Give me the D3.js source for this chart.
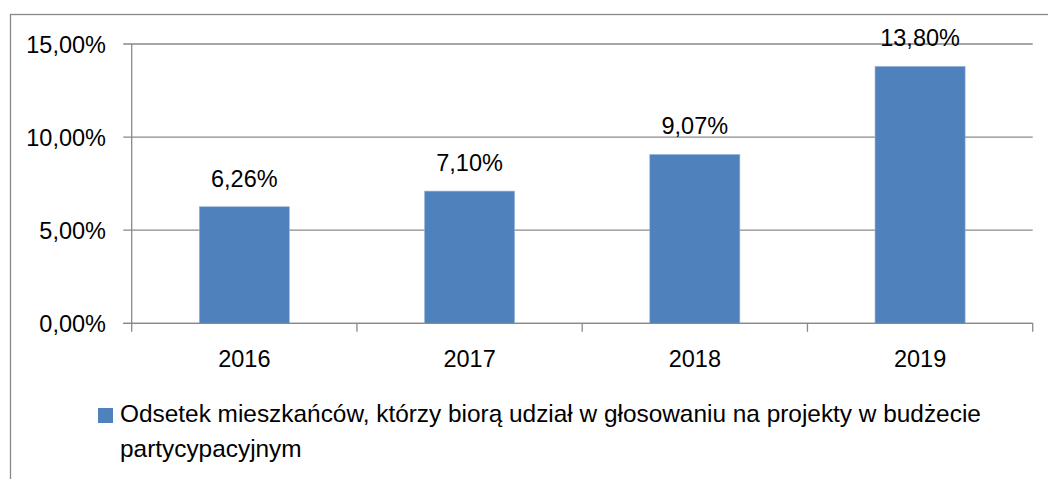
<!DOCTYPE html>
<html>
<head>
<meta charset="utf-8">
<script src="https://cdn.jsdelivr.net/npm/d3@7"></script>
<style>
  body { margin: 0; background: #fff; }
  text { font-family: "Liberation Sans", Arial, sans-serif; fill: #000; }
</style>
</head>
<body>
<div id="chart"></div>
<script>
var years = ["2016", "2017", "2018", "2019"];
var values = [6.26, 7.10, 9.07, 13.80];
var yTicks = [0, 5, 10, 15];
var legendLines = ["Odsetek mieszkańców, którzy biorą udział w głosowaniu na projekty w budżecie",
  "partycypacyjnym"];

var width = 1048, height = 479;
var plotLeft = 131.7, plotRight = 1032.7, plotTop = 44, plotBottom = 323.3;
var gray = "#898989", barColor = "#4f81bd";

var svg = d3.select("#chart").append("svg")
  .attr("width", width)
  .attr("height", height);

// outer frame of the chart area
svg.append("rect")
  .attr("x", 10.5).attr("y", 14.5)
  .attr("width", 1100).attr("height", 600)
  .attr("fill", "none")
  .attr("stroke", gray)
  .attr("stroke-width", 1.3);

var x = d3.scaleBand()
  .domain(years)
  .range([plotLeft, plotRight])
  .paddingInner(0.6)
  .paddingOuter(0.3);

var y = d3.scaleLinear()
  .domain([0, 15])
  .range([plotBottom, plotTop]);

var fmt = function(v){ return v.toFixed(2).replace(".", ",") + "%"; };

// gridlines + y ticks
svg.selectAll(".grid")
  .data(yTicks)
  .enter().append("line")
  .attr("x1", plotLeft - 8.5).attr("x2", plotRight)
  .attr("y1", function(d){ return y(d); })
  .attr("y2", function(d){ return y(d); })
  .attr("stroke", gray)
  .attr("stroke-width", 1.3);

svg.selectAll(".ylab")
  .data(yTicks)
  .enter().append("text")
  .attr("x", 106)
  .attr("y", function(d){ return y(d) + 8.5; })
  .attr("text-anchor", "end")
  .style("font-size", "23.5px")
  .text(fmt);

// y axis line
svg.append("line")
  .attr("x1", plotLeft).attr("x2", plotLeft)
  .attr("y1", plotTop).attr("y2", plotBottom + 8.5)
  .attr("stroke", gray)
  .attr("stroke-width", 1.3);

// category boundary ticks
var step = x.step();
svg.selectAll(".xtick")
  .data(d3.range(1, years.length + 1))
  .enter().append("line")
  .attr("x1", function(i){ return plotLeft + i * step; })
  .attr("x2", function(i){ return plotLeft + i * step; })
  .attr("y1", plotBottom).attr("y2", plotBottom + 8.5)
  .attr("stroke", gray)
  .attr("stroke-width", 1.3);

// bars
svg.selectAll(".bar")
  .data(values)
  .enter().append("rect")
  .attr("x", function(d, i){ return x(years[i]); })
  .attr("y", function(d){ return y(d); })
  .attr("width", x.bandwidth())
  .attr("height", function(d){ return plotBottom - y(d); })
  .attr("fill", barColor)
  .attr("stroke", "#9db8dc")
  .attr("stroke-width", 0.6);

// redraw x axis over bars
svg.append("line")
  .attr("x1", plotLeft - 8.5).attr("x2", plotRight)
  .attr("y1", plotBottom).attr("y2", plotBottom)
  .attr("stroke", gray)
  .attr("stroke-width", 1.3);

// value labels
svg.selectAll(".vlab")
  .data(values)
  .enter().append("text")
  .attr("x", function(d, i){ return x(years[i]) + x.bandwidth() / 2; })
  .attr("y", function(d){ return y(d) - 20; })
  .attr("text-anchor", "middle")
  .style("font-size", "23.5px")
  .text(fmt);

// category labels
svg.selectAll(".xlab")
  .data(years)
  .enter().append("text")
  .attr("x", function(d){ return x(d) + x.bandwidth() / 2; })
  .attr("y", 366.7)
  .attr("text-anchor", "middle")
  .style("font-size", "23.5px")
  .text(function(d){ return d; });

// legend
svg.append("rect")
  .attr("x", 98).attr("y", 408)
  .attr("width", 15).attr("height", 15)
  .attr("fill", barColor);

svg.selectAll(".leg")
  .data(legendLines)
  .enter().append("text")
  .attr("x", 120)
  .attr("y", function(d, i){ return 422 + i * 34.5; })
  .style("font-size", "24.4px")
  .text(function(d){ return d; });
</script>
</body>
</html>
